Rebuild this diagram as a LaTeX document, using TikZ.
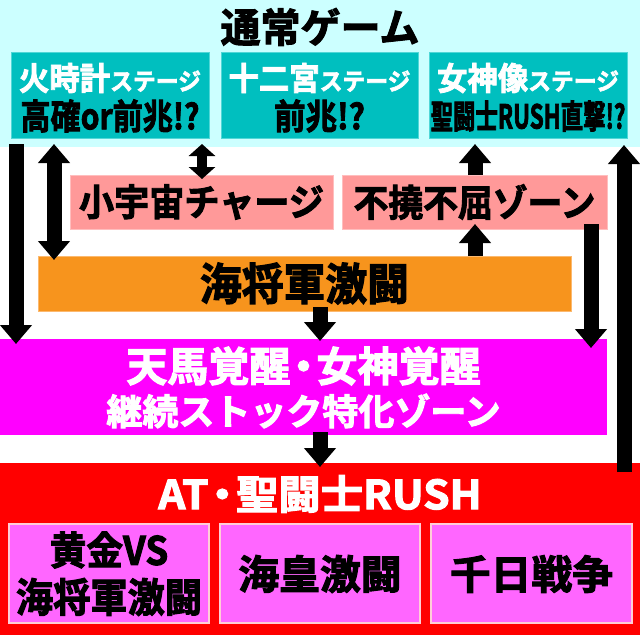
\documentclass[tikz,border=0pt]{standalone}
\usepackage{fontspec}
\usepackage{graphicx}
\usetikzlibrary{arrows.meta}
\newfontfamily\jp{Noto Sans CJK JP Bold}[FakeBold=2.6]
\definecolor{bgcyan}{RGB}{204,255,255}
\definecolor{tealbox}{RGB}{0,191,191}
\definecolor{tealedge}{RGB}{80,215,215}
\definecolor{pinkbox}{RGB}{255,153,153}
\definecolor{pinkedge}{RGB}{255,190,190}
\definecolor{orangebox}{RGB}{247,148,29}
\definecolor{orangeedge}{RGB}{252,185,110}
\definecolor{magbox}{RGB}{255,0,255}
\definecolor{redbox}{RGB}{255,0,0}
\definecolor{subbox}{RGB}{255,102,255}
\definecolor{subedge}{RGB}{255,205,215}
\newcommand{\fsz}[1]{\fontsize{#1pt}{#1pt}\selectfont}
\newcommand{\sxs}[2]{\scalebox{#1}[1]{#2}}
\newcommand{\mdot}{\hspace{-0.18em}・\hspace{-0.18em}}
\begin{document}
\begin{tikzpicture}[x=1pt,y=-1pt,
  box/.style={rectangle, inner sep=0pt, outer sep=0pt, anchor=north west},
  txt/.style={inner sep=0pt, outer sep=0pt, font=\jp},
  arr/.style={draw=black, line width=15pt, -{Triangle[width=31pt,length=19pt]}},
  darr/.style={draw=black, line width=15pt, {Triangle[width=31pt,length=19pt]}-{Triangle[width=31pt,length=19pt]}},
  sdarr/.style={draw=black, line width=10pt, {Triangle[width=26pt,length=12pt]}-{Triangle[width=26pt,length=12pt]}}]
\useasboundingbox (0,0) rectangle (640,635);
\fill[white] (0,0) rectangle (640,635);
% normal game area
\node[box, fill=bgcyan, minimum width=640pt, minimum height=147pt] (normal) at (0,0) {};
\node[txt] (title) at (320,27) {\fsz{40}通常ゲーム};
\node[box, fill=tealbox, draw=tealedge, line width=1pt, minimum width=198pt, minimum height=86pt] (hidoke) at (11,52) {};
\node[box, fill=tealbox, draw=tealedge, line width=1pt, minimum width=197pt, minimum height=86pt] (juuni) at (221,52) {};
\node[box, fill=tealbox, draw=tealedge, line width=1pt, minimum width=198pt, minimum height=86pt] (megami) at (429,52) {};
\node[txt, text=white] (hidokeA) at (110,78) {\sxs{0.95}{\fsz{32}火時計\fsz{24}ステージ}};
\node[txt] (hidokeB) at (110,116) {\sxs{0.86}{\fsz{35}高確or前兆!?}};
\node[txt, text=white] (juuniA) at (319.5,78) {\sxs{0.95}{\fsz{32}十二宮\fsz{24}ステージ}};
\node[txt] (juuniB) at (319.5,116) {\sxs{0.9}{\fsz{35}前兆!?}};
\node[txt, text=white] (megamiA) at (528,78) {\sxs{0.95}{\fsz{32}女神像\fsz{24}ステージ}};
\node[txt] (megamiB) at (528,116) {\sxs{0.68}{\fsz{33}聖闘士RUSH直撃!?}};
% middle zones
\node[box, fill=pinkbox, draw=pinkedge, line width=1pt, minimum width=263pt, minimum height=54pt] (charge) at (70,175) {};
\node[txt] (chargeT) at (201.5,202) {\sxs{0.95}{\fsz{37}小宇宙チャージ}};
\node[box, fill=pinkbox, draw=pinkedge, line width=1pt, minimum width=265pt, minimum height=54pt] (fukutsu) at (342,175) {};
\node[txt] (fukutsuT) at (474.5,202) {\sxs{0.94}{\fsz{37}不撓不屈ゾーン}};
\node[box, fill=orangebox, draw=orangeedge, line width=1pt, minimum width=533pt, minimum height=55pt] (kaisho) at (38,256) {};
\node[txt] (kaishoT) at (304.5,283.5) {\sxs{0.95}{\fsz{44}海将軍激闘}};
\node[box, fill=magbox, minimum width=607pt, minimum height=96pt] (tenba) at (0,339) {};
\node[txt, text=white] (tenbaA) at (303.5,366) {\sxs{1.0}{\fsz{41}天馬覚醒\mdot 女神覚醒}};
\node[txt, text=white] (tenbaB) at (303.5,411) {\sxs{1.0}{\fsz{36}継続ストック特化ゾーン}};
% AT
\node[box, fill=redbox, minimum width=640pt, minimum height=172pt] (atrush) at (0,463) {};
\node[txt, text=white] (atrushT) at (320,494) {\sxs{1.06}{\fsz{40}AT\mdot 聖闘士RUSH}};
\node[box, fill=subbox, draw=subedge, line width=1.5pt, minimum width=200pt, minimum height=99pt] (sub1) at (9,524) {};
\node[box, fill=subbox, draw=subedge, line width=1.5pt, minimum width=200pt, minimum height=99pt] (sub2) at (220,524) {};
\node[box, fill=subbox, draw=subedge, line width=1.5pt, minimum width=201pt, minimum height=99pt] (sub3) at (431,524) {};
\node[txt] (sub1A) at (109,550) {\sxs{0.94}{\fsz{39}黄金VS}};
\node[txt] (sub1B) at (109,597) {\sxs{0.93}{\fsz{40}海将軍激闘}};
\node[txt] (sub2T) at (320,574) {\sxs{1.02}{\fsz{40}海皇激闘}};
\node[txt] (sub3T) at (531.5,574) {\sxs{1.02}{\fsz{40}千日戦争}};
% arrow columns
\coordinate (xa) at (16,0);
\coordinate (xb) at (54,0);
\coordinate (xc) at (202,0);
\coordinate (xd) at (475,0);
\coordinate (xe) at (591,0);
\coordinate (xf) at (624,0);
\coordinate (xg) at (320,0);
\draw[arr, shorten <=-3pt, shorten >=-5pt] (xa |- normal.south) -- (xa |- tenba.north);
\draw[darr, shorten <=-3pt, shorten >=-4pt] (xb |- normal.south) -- (xb |- kaisho.north);
\draw[sdarr, shorten <=-3pt, shorten >=-4pt] (xc |- normal.south) -- (xc |- charge.north);
\draw[arr, shorten >=-3pt] (xd |- fukutsu.north) -- (xd |- normal.south);
\draw[arr, shorten >=-5pt] (xd |- kaisho.north) -- (xd |- fukutsu.south);
\draw[arr, shorten <=-5pt, shorten >=-9pt] (xe |- fukutsu.south) -- (xe |- tenba.north);
\draw[arr, shorten <=-9pt, shorten >=-2pt] (xf |- atrush.north) -- (xf |- normal.south);
\draw[arr, shorten <=-4pt, shorten >=-2pt] (xg |- kaisho.south) -- (xg |- tenba.north);
\draw[arr, shorten <=-3pt, shorten >=-4pt] (xg |- tenba.south) -- (xg |- atrush.north);
\end{tikzpicture}
\end{document}
